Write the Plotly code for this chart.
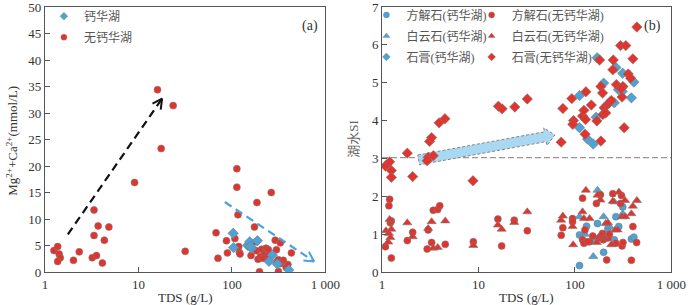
import numpy as np
import plotly.graph_objects as go

# ---------------- Panel (a) data ----------------
a_ca_tds = [103, 104, 147, 155, 187, 162, 158, 270, 249, 306, 405]
a_ca_val = [7.3, 4.6, 5.05, 5.7, 5.9, 4.5, 4.8, 3.2, 2.0, 1.5, 0.4]

a_no_tds = [1.25, 1.37, 1.42, 1.46, 1.37, 2.02, 2.33, 3.35, 3.35, 3.71, 3.21, 3.56, 4.12, 4.32, 4.83,
            9.09, 16.0, 17.5, 23.5, 31.6, 67.6, 70.9, 87.3, 89.4, 107.5, 112.8, 112.8, 116, 118, 120,
            122, 174, 185, 181, 160, 183, 190, 202, 208, 222, 232, 245, 197, 263, 290, 299, 329, 301,
            314, 314, 354, 380, 396, 432, 215, 240, 330]
a_no_val = [4.05, 4.8, 3.4, 2.7, 2.0, 2.2, 3.8, 11.7, 6.9, 8.7, 2.7, 3.1, 1.7, 6.0, 8.5,
            16.9, 34.4, 23.3, 31.4, 3.9, 7.4, 2.6, 5.9, 3.6, 6.3, 19.5, 16.0, 10.8, 4.8, 3.7,
            3.4, 8.5, 13.1, 5.7, 3.1, 4.0, 2.4, 2.9, 4.3, 3.3, 4.5, 4.2, 0.05, 15.0, 6.0, 4.2, 5.5, 1.9,
            2.3, 0.1, 2.2, 0.9, 1.4, 3.6, 2.6, 3.0, 1.6]

# ---------------- Panel (b) data ----------------
b_gyp_no_tds = [1.085, 1.20, 1.25, 1.25, 1.83, 2.08, 3.01, 3.40, 2.94, 3.11, 3.27, 3.91, 4.49, 8.78,
                16.1, 17.6, 23.8, 32.1, 72.1, 75.1, 92.9, 96.8, 95, 120, 124, 129, 130, 127.5, 148,
                169, 180, 186, 186, 193.5, 195, 201, 208.5, 217, 227, 238, 247, 250, 297, 337, 308, 315,
                324, 357, 378, 399, 439, 269, 301]
b_gyp_no_si = [2.80, 2.91, 2.68, 2.50, 3.14, 2.52, 3.03, 3.07, 2.94, 3.45, 3.55, 3.94, 4.05, 2.41,
               4.38, 4.31, 4.36, 4.57, 3.43, 4.32, 4.58, 4.0, 3.9, 4.12, 4.27, 4.03, 4.76, 3.64, 4.41,
               3.99, 5.60, 4.90, 3.46, 4.73, 4.16, 4.34, 4.2, 4.42, 4.47, 4.53, 5.34, 5.60, 5.98, 5.98,
               4.62, 4.90, 3.81, 5.23, 5.12, 5.63, 6.47, 4.95, 4.85]
b_gyp_ca_tds = [111.6, 111.6, 135, 155, 166, 170, 198.5, 256, 266, 282, 313, 309, 385, 408]
b_gyp_ca_si = [4.66, 3.81, 3.51, 3.38, 4.09, 5.66, 4.99, 4.47, 5.40, 4.82, 5.25, 4.77, 4.60, 5.02]

b_cal_no_tds = [1.085, 1.18, 1.20, 1.22, 1.25, 1.25, 1.83, 2.08, 2.94, 3.01, 3.27, 3.40, 3.78, 3.97,
                4.53, 8.85, 15.9, 17.4, 23.5, 32.1, 72.1, 75, 94.5, 94.5, 120, 120, 124, 127, 142,
                167, 184, 193.5, 197, 213.5, 220, 247, 266, 297, 304, 308, 315, 385, 399, 436, 228, 178,
                153, 135]
b_cal_no_si = [0.67, 1.75, 1.92, 1.30, 1.35, 0.37, 0.83, 1.05, 0.61, 1.11, 0.78, 1.63, 1.65, 1.75,
               0.73, 0.80, 1.40, 0.69, 1.37, 1.09, 0.97, 1.17, 1.41, 1.33, 1.95, 0.85, 0.76, 1.11, 0.80,
               1.81, 2.04, 1.02, 0.85, 0.32, 0.90, 2.07, 0.76, 1.81, 2.02, 0.69, 0.78, 0.31, 1.20, 0.78,
               1.0, 0.9, 0.95, 0.8]
b_cal_ca_tds = [111.6, 111.6, 132, 155, 171.5, 198.5, 256, 266, 313, 385, 408, 220, 285]
b_cal_ca_si = [0.17, 0.98, 1.21, 0.85, 1.28, 0.52, 0.85, 1.46, 1.72, 0.87, 0.92, 1.15, 1.2]

b_dol_no_tds = [1.10, 1.20, 1.25, 1.18, 1.22, 1.16, 1.83, 2.08, 3.01, 3.27, 3.40, 3.78, 4.53, 8.85,
                15.9, 17.4, 23.5, 32.1, 72, 75, 94.5, 96, 120, 124, 130, 142, 169, 171.5, 184, 195,
                208.5, 238, 247, 261, 277, 286, 308, 331, 333, 385, 399, 439, 187, 220]
b_dol_no_si = [1.09, 1.39, 1.13, 1.02, 0.91, 0.79, 1.30, 0.93, 1.15, 1.33, 0.63, 0.65, 1.35, 0.70,
               1.24, 1.13, 1.31, 1.59, 1.37, 1.48, 1.2, 0.72, 1.59, 1.41, 2.16, 1.41, 0.78, 2.03, 1.9,
               0.93, 1.28, 0.72, 1.87, 1.11, 1.11, 2.11, 1.46, 1.89, 1.46, 1.54, 1.74, 1.89, 1.0, 1.3]
b_dol_ca_tds = [111.6, 155, 171.5, 198.5, 256, 313, 127, 228]
b_dol_ca_si = [1.46, 0.41, 2.16, 1.46, 1.85, 1.54, 1.0, 1.2]

SI_THRESHOLD = 3.02

x_ticks = [1, 10, 100, 1000]
x_ticktext = ["1", "10", "100", "1 000"]

# ---------------- styles ----------------
RED = "#e2332c"
BLUE = "#4ea2d6"
EDGE = "#7a7a7a"
TXT = "#333333"
LEGTXT = "#555555"
SERIF = "Liberation Serif, Times New Roman, serif"
CJK = "Liberation Serif, Noto Sans CJK SC, serif"

W, H = 700, 305
MT, MB = 5, 33
PH = H - MT - MB
A_X0, A_X1 = 43, 331
B_X0, B_X1 = 389, 686

fig = go.Figure()


def pts(x, y, color, symbol, size, xa, ya):
    return go.Scatter(x=x, y=y, mode="markers", xaxis=xa, yaxis=ya, showlegend=False,
                      marker=dict(color=color, symbol=symbol, size=size,
                                  line=dict(color=EDGE, width=0.6)),
                      hoverinfo="x+y")


def leg(name, color, symbol, legend):
    return go.Scatter(x=[None], y=[None], mode="markers", name=name, legend=legend, legendgroup=name,
                      marker=dict(color=color, symbol=symbol, size=6,
                                  line=dict(color=EDGE, width=0.4)))


def arrow_line(p0, p1, ppd, ppu):
    """Chevron arrow head points (data coords) for a line p0->p1 on a log-x axis."""
    (x0, y0), (x1, y1) = p0, p1
    X0, Y0 = np.log10(x0) * ppd, y0 * ppu
    X1, Y1 = np.log10(x1) * ppd, y1 * ppu
    u = np.array([X1 - X0, Y1 - Y0])
    u = u / np.linalg.norm(u)
    L = 11
    out = []
    for ang in (np.radians(28), 0.0, -np.radians(28)):
        if ang == 0.0:
            out.append((X1, Y1))
            continue
        c, s = np.cos(ang), np.sin(ang)
        r = np.array([c * u[0] - s * u[1], s * u[0] + c * u[1]])
        out.append((X1 - L * r[0], Y1 - L * r[1]))
    xs = [10 ** (p[0] / ppd) for p in out]
    ys = [p[1] / ppu for p in out]
    return xs, ys


A_PPD = (A_X1 - A_X0) / 3.0
A_PPU = PH / 50.0
B_PPD = (B_X1 - B_X0) / 3.0
B_PPU = PH / 7.0

# ---------------- Panel (a) ----------------
fig.add_trace(pts(a_no_tds, a_no_val, RED, "circle", 7, "x", "y"))
fig.add_trace(pts(a_ca_tds, a_ca_val, BLUE, "diamond", 8, "x", "y"))

arrow_a_black = [(1.76, 7.1), (17.9, 32.7)]
arrow_a_blue = [(83.9, 13.2), (755, 2.0)]
for (p0, p1), col in ((arrow_a_black, "#111111"), (arrow_a_blue, "#4aa3df")):
    fig.add_trace(go.Scatter(x=[p0[0], p1[0]], y=[p0[1], p1[1]], mode="lines", xaxis="x", yaxis="y",
                             showlegend=False, hoverinfo="skip",
                             line=dict(color=col, width=2.2, dash="8px,5px")))
    hx, hy = arrow_line(p0, p1, A_PPD, A_PPU)
    fig.add_trace(go.Scatter(x=hx, y=hy, mode="lines", xaxis="x", yaxis="y", showlegend=False,
                             hoverinfo="skip", line=dict(color=col, width=2)))

fig.add_trace(leg("钙华湖", BLUE, "diamond", "legend"))
fig.add_trace(leg("无钙华湖", RED, "circle", "legend"))

# ---------------- Panel (b) ----------------
fig.add_trace(go.Scatter(x=[1, 1000], y=[SI_THRESHOLD, SI_THRESHOLD], mode="lines", xaxis="x2", yaxis="y2",
                         showlegend=False, hoverinfo="skip",
                         line=dict(color="#a09494", width=1.4, dash="6px,3px")))

arrow_b = [(2.4, 2.96), (62, 3.62)]
(bx0, by0), (bx1, by1) = arrow_b
P0 = np.array([np.log10(bx0) * B_PPD, by0 * B_PPU])
P1 = np.array([np.log10(bx1) * B_PPD, by1 * B_PPU])
u = (P1 - P0) / np.linalg.norm(P1 - P0)
n = np.array([-u[1], u[0]])
base = P1 - u * 10
poly = [P0 + n * 5, base + n * 5, base + n * 9, P1, base - n * 9, base - n * 5, P0 - n * 5, P0 + n * 5]
fig.add_trace(go.Scatter(x=[10 ** (p[0] / B_PPD) for p in poly], y=[p[1] / B_PPU for p in poly],
                         mode="lines", fill="toself", fillcolor="#a9d9f2", xaxis="x2", yaxis="y2",
                         showlegend=False, hoverinfo="skip",
                         line=dict(color="#8a8080", width=1, dash="3px,2px")))

fig.add_trace(pts(b_cal_ca_tds, b_cal_ca_si, BLUE, "circle", 7, "x2", "y2"))
fig.add_trace(pts(b_dol_ca_tds, b_dol_ca_si, BLUE, "triangle-up", 8, "x2", "y2"))
fig.add_trace(pts(b_gyp_ca_tds, b_gyp_ca_si, BLUE, "diamond", 8, "x2", "y2"))
fig.add_trace(pts(b_cal_no_tds, b_cal_no_si, RED, "circle", 7, "x2", "y2"))
fig.add_trace(pts(b_dol_no_tds, b_dol_no_si, RED, "triangle-up", 8, "x2", "y2"))
fig.add_trace(pts(b_gyp_no_tds, b_gyp_no_si, RED, "diamond", 8, "x2", "y2"))

fig.add_trace(leg("方解石(钙华湖)", BLUE, "circle", "legend2"))
fig.add_trace(leg("白云石(钙华湖)", BLUE, "triangle-up", "legend2"))
fig.add_trace(leg("石膏(钙华湖)", BLUE, "diamond", "legend2"))
fig.add_trace(leg("方解石(无钙华湖)", RED, "circle", "legend3"))
fig.add_trace(leg("白云石(无钙华湖)", RED, "triangle-up", "legend3"))
fig.add_trace(leg("石膏(无钙华湖)", RED, "diamond", "legend3"))

axis_common = dict(showline=True, linecolor="#555555", linewidth=1, mirror=True, ticks="inside",
                   ticklen=5, tickcolor="#555555", showgrid=False, zeroline=False,
                   ticklabeloverflow="allow",
                   tickfont=dict(family=SERIF, size=13, color=TXT))

leg_common = dict(xanchor="left", yanchor="top", bgcolor="rgba(0,0,0,0)",
                  font=dict(family=CJK, size=12, color=LEGTXT), tracegroupgap=2, itemwidth=30)


def ypx(py):
    return (H - MB - py) / PH


fig.update_layout(
    width=W, height=H,
    margin=dict(l=0, r=0, t=MT, b=MB),
    paper_bgcolor="white", plot_bgcolor="white",
    xaxis=dict(type="log", range=[0, 3], domain=[A_X0 / W, A_X1 / W], tickvals=x_ticks,
               ticktext=x_ticktext, anchor="y", **axis_common),
    yaxis=dict(range=[0, 50], dtick=5, domain=[0, 1], anchor="x", **axis_common),
    xaxis2=dict(type="log", range=[0, 3], domain=[B_X0 / W, B_X1 / W], tickvals=x_ticks,
                ticktext=x_ticktext, anchor="y2", **axis_common),
    yaxis2=dict(range=[0, 7], dtick=1, domain=[0, 1], anchor="x2", **axis_common),
    legend=dict(x=(82 - 40) / W, y=1.02, **leg_common),
    legend2=dict(x=(413 - 40) / W, y=1.025, **leg_common),
    legend3=dict(x=(521 - 40) / W, y=1.025, **leg_common),
    annotations=[
        dict(text="(a)", x=325 / W, y=ypx(24), xref="paper", yref="paper", xanchor="right",
             yanchor="middle", showarrow=False, font=dict(family=SERIF, size=14, color=TXT)),
        dict(text="(b)", x=677 / W, y=ypx(24), xref="paper", yref="paper", xanchor="right",
             yanchor="middle", showarrow=False, font=dict(family=SERIF, size=14, color=TXT)),
        dict(text="TDS (g/L)", x=(A_X0 + A_X1) / 2 / W, y=ypx(298), xref="paper", yref="paper",
             xanchor="center", yanchor="middle", showarrow=False,
             font=dict(family=SERIF, size=13, color=TXT)),
        dict(text="TDS (g/L)", x=(B_X0 + B_X1) / 2 / W, y=ypx(298), xref="paper", yref="paper",
             xanchor="center", yanchor="middle", showarrow=False,
             font=dict(family=SERIF, size=13, color=TXT)),
        dict(text="Mg<sup>2+</sup>+Ca<sup>2+</sup>(mmol/L)", x=9 / W, y=ypx(140), xref="paper",
             yref="paper", xanchor="center", yanchor="middle", textangle=-90, showarrow=False,
             font=dict(family=SERIF, size=13, color=TXT)),
        dict(text="湖水SI", x=359 / W, y=ypx(138), xref="paper", yref="paper", xanchor="center",
             yanchor="middle", textangle=-90, showarrow=False,
             font=dict(family=CJK, size=13, color="#666666")),
    ],
)

fig.write_html("out.html", config={"displayModeBar": False},
               post_script="document.body.style.margin='0';document.body.style.overflow='hidden';")
